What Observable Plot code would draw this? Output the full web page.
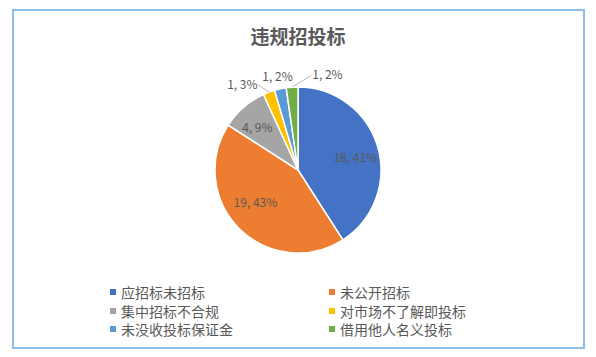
<!DOCTYPE html>
<html><head><meta charset="utf-8">
<script src="https://cdn.jsdelivr.net/npm/d3@7"></script>
<script src="https://cdn.jsdelivr.net/npm/@observablehq/plot@0.6"></script>
<style>
body{margin:0;background:#fff;font-family:"Noto Sans CJK SC","Noto Sans",sans-serif;width:596px;height:357px;overflow:hidden;position:relative}
#frame{position:absolute;left:12px;top:9px;width:569px;height:336px;border:2px solid #8fbde6;}
#title{position:absolute;left:0;top:25px;width:596px;text-align:center;font-size:19px;font-weight:bold;color:#595959;line-height:22px}
#chart{position:absolute;left:0;top:60px}
.li{position:absolute;font-size:14px;color:#595959;line-height:14px;height:14px;white-space:nowrap;display:flex;align-items:center}
.sw{display:inline-block;width:6px;height:6px;margin-right:5px}
</style></head>
<body>
<div id="frame"></div>
<div id="title">违规招投标</div>
<div id="chart"></div>
<div id="legend"></div>
<script>
const categories = ["应招标未招标","未公开招标","集中招标不合规","对市场不了解即投标","未没收投标保证金","借用他人名义投标"];
const values = [18, 19, 4, 1, 1, 1];
const pctLabels = ["41%","43%","9%","3%","2%","2%"];
const colors = ["#4472C4","#ED7D31","#A5A5A5","#FFC000","#5B9BD5","#70AD47"];
// label placement style: angle offset (deg) from slice mid and radius factor
const labelAngleOffset = [4, 8, -3.4, -12.9, -0.4, 21];
const labelRadius = [0.70, 0.65, 0.71, 1.23, 1.15, 1.20];
const leader = [false, false, false, true, false, true];

const R = 83;
const pie = d3.pie().sort(null).value(d => d)(values);
const mid = a => (a.startAngle + a.endAngle) / 2;
const polar = (ang, r) => ({x: r * Math.sin(ang), y: r * Math.cos(ang)});

const labels = pie.map((a, i) => {
  const p = polar(mid(a) + labelAngleOffset[i] * Math.PI / 180, R * labelRadius[i]);
  return {...p, text: `${values[i]}, ${pctLabels[i]}`, i};
});
const leaders = pie.map((a, i) => {
  if (!leader[i]) return null;
  const e = polar(mid(a), R * 1.01);
  const l = labels[i];
  const side = l.x < e.x ? 1 : -1;
  return {x1: e.x, y1: e.y, x2: l.x + side * 16, y2: l.y};
}).filter(d => d);

const pieMark = (index, scales) => {
  const g = d3.create("svg:g");
  const cx = scales.x(0), cy = scales.y(0);
  const r = scales.x(R) - scales.x(0);
  const arc = d3.arc().innerRadius(0).outerRadius(r);
  g.selectAll("path").data(pie).join("path")
    .attr("transform", `translate(${cx},${cy})`)
    .attr("d", arc)
    .attr("fill", (d, i) => colors[i])
    .attr("stroke", "white")
    .attr("stroke-width", 1.5)
    .attr("stroke-linejoin", "round");
  return g.node();
};

const chart = Plot.plot({
  width: 596, height: 220,
  margin: 0,
  x: {domain: [-298, 298], axis: null},
  y: {domain: [-110, 110], axis: null},
  style: {fontFamily: '"Noto Sans CJK SC","Noto Sans",sans-serif', background: "transparent"},
  marks: [
    pieMark,
    Plot.link(leaders, {x1: "x1", y1: "y1", x2: "x2", y2: "y2", stroke: "#a6a6a6", strokeWidth: 0.8}),
    Plot.text(labels, {x: "x", y: "y", text: "text", fill: "#595959", fontSize: 12})
  ]
});
document.getElementById("chart").appendChild(chart);

const legend = document.getElementById("legend");
const colX = [110, 329];
const rowY = [285, 303.5, 322];
categories.forEach((c, i) => {
  const d = document.createElement("div");
  d.className = "li";
  d.style.left = colX[i % 2] + "px";
  d.style.top = rowY[Math.floor(i / 2)] + "px";
  d.innerHTML = `<span class="sw" style="background:${colors[i]}"></span>${c}`;
  legend.appendChild(d);
});
</script>
</body></html>
